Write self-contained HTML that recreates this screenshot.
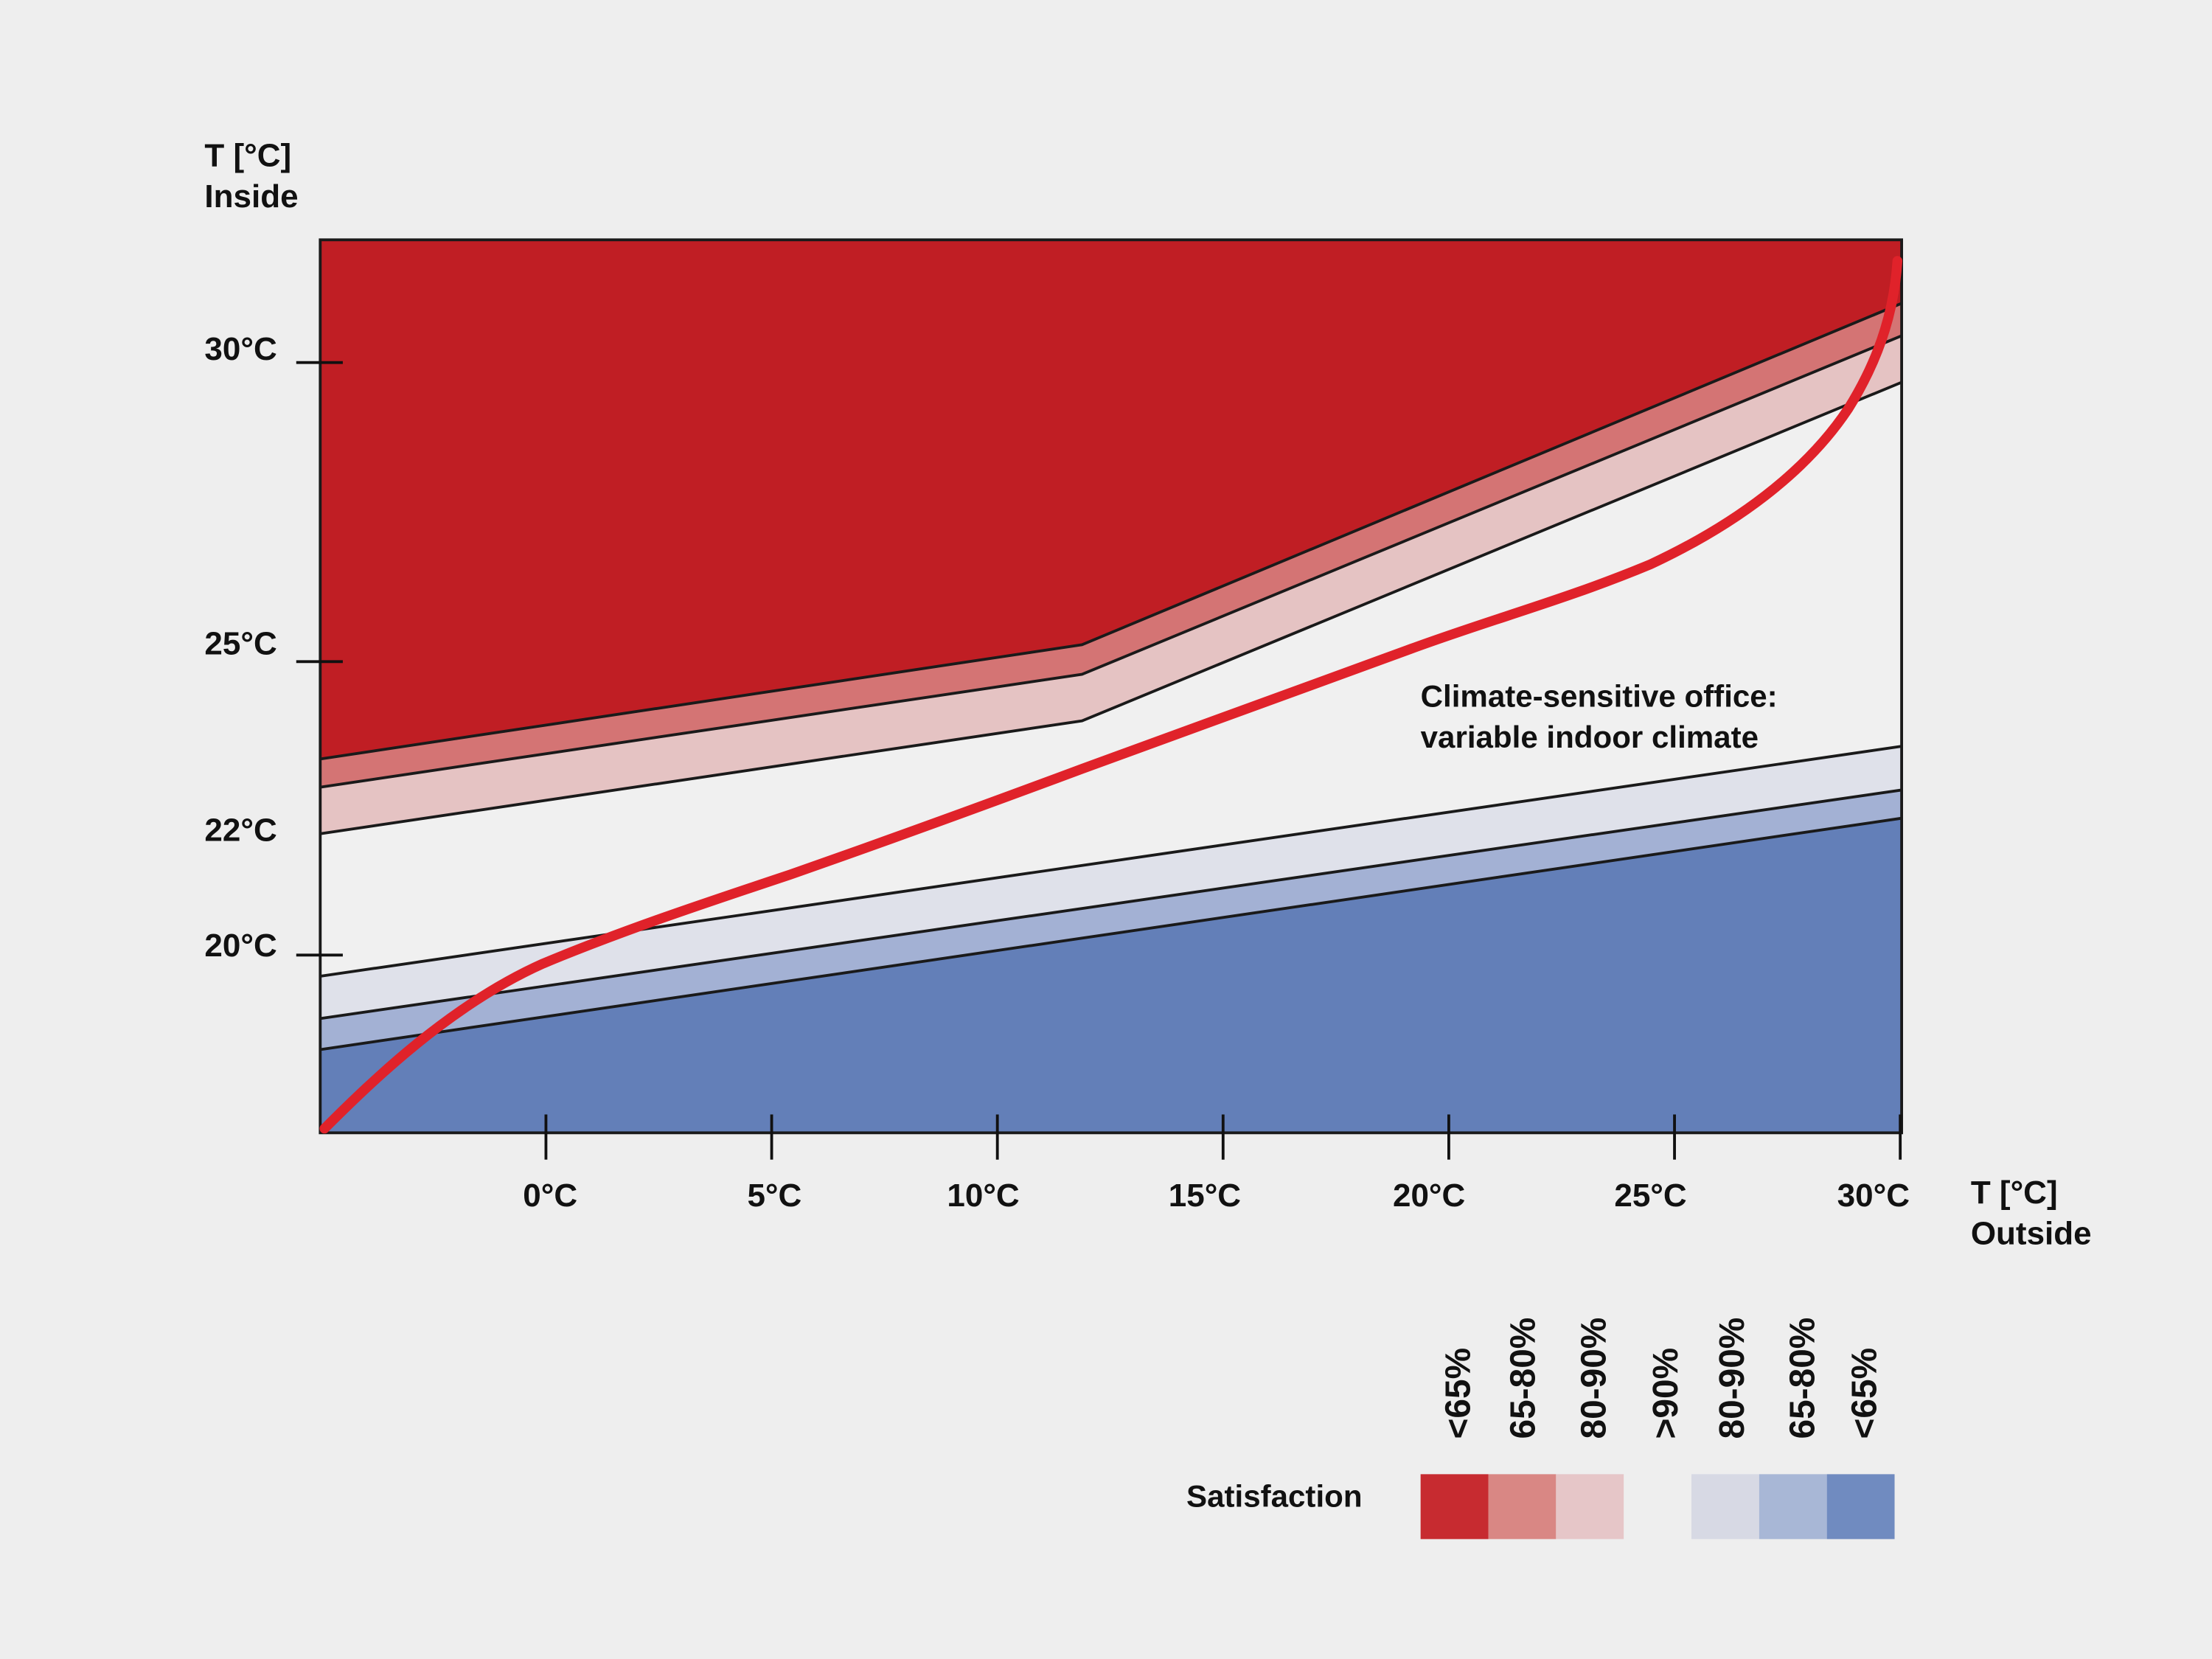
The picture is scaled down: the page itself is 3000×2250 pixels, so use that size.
<!DOCTYPE html>
<html><head><meta charset="utf-8">
<style>
html,body{margin:0;padding:0;background:#eeeeee;}
svg{display:block;}
text{font-family:"Liberation Sans",Arial,sans-serif;font-weight:bold;fill:#111;}
</style></head>
<body>
<svg width="3000" height="2250" viewBox="0 0 1568 1176" preserveAspectRatio="none" xmlns="http://www.w3.org/2000/svg">
<rect width="1568" height="1176" fill="#eeeeee"/>
<rect x="227" y="170" width="1121" height="633" fill="#f0f0f0"/>
<polygon points="227,170 1348,170 1348,271 767,511 227,591" fill="#e5c3c3"/>
<polygon points="227,170 1348,170 1348,238 767,478 227,558" fill="#d47474"/>
<polygon points="227,170 1348,170 1348,215 767,457 227,538" fill="#c01e24"/>
<polygon points="227,692 1348,529 1348,803 227,803" fill="#dfe1ea"/>
<polygon points="227,722 1348,560 1348,803 227,803" fill="#a3b1d4"/>
<polygon points="227,744 1348,580 1348,803 227,803" fill="#637fb8"/>
<g stroke="#1a1a1a" stroke-width="2" fill="none">
<polyline points="227,538 767,457 1348,215"/>
<polyline points="227,558 767,478 1348,238"/>
<polyline points="227,591 767,511 1348,271"/>
<line x1="227" y1="692" x2="1348" y2="529"/>
<line x1="227" y1="722" x2="1348" y2="560"/>
<line x1="227" y1="744" x2="1348" y2="580"/>
<rect x="227" y="170" width="1121" height="633"/>
</g>
<g stroke="#111" stroke-width="2">
<line x1="210" y1="257" x2="243" y2="257"/>
<line x1="210" y1="469" x2="243" y2="469"/>
<line x1="210" y1="677" x2="243" y2="677"/>
<line x1="387" y1="790" x2="387" y2="822"/>
<line x1="547" y1="790" x2="547" y2="822"/>
<line x1="707" y1="790" x2="707" y2="822"/>
<line x1="867" y1="790" x2="867" y2="822"/>
<line x1="1027" y1="790" x2="1027" y2="822"/>
<line x1="1187" y1="790" x2="1187" y2="822"/>
<line x1="1347" y1="790" x2="1347" y2="822"/>
</g>
<path d="M230,800 C265,765 320,712 385,683 C440,660 500,640 560,620 C640,592 700,570 767,545 C850,515 930,485 1000,460 C1060,438 1110,425 1170,400 C1230,372 1280,335 1310,290 C1335,250 1343,215 1345,185" fill="none" stroke="#e0222a" stroke-width="7" stroke-linecap="round"/>
<text x="145" y="118" font-size="23">T [°C]</text>
<text x="145" y="147" font-size="23">Inside</text>
<text x="145" y="255" font-size="23">30°C</text>
<text x="145" y="464" font-size="23">25°C</text>
<text x="145" y="596" font-size="23">22°C</text>
<text x="145" y="678" font-size="23">20°C</text>
<g font-size="23" text-anchor="middle">
<text x="390" y="855">0°C</text>
<text x="549" y="855">5°C</text>
<text x="697" y="855">10°C</text>
<text x="854" y="855">15°C</text>
<text x="1013" y="855">20°C</text>
<text x="1170" y="855">25°C</text>
<text x="1328" y="855">30°C</text>
</g>
<text x="1397" y="853" font-size="23">T [°C]</text>
<text x="1397" y="882" font-size="23">Outside</text>
<text x="1007" y="501" font-size="22">Climate-sensitive office:</text>
<text x="1007" y="530" font-size="22">variable indoor climate</text>
<text x="841" y="1068" font-size="22">Satisfaction</text>
<rect x="1007" y="1045" width="48" height="46" fill="#c72b30"/>
<rect x="1055" y="1045" width="48" height="46" fill="#d98784"/>
<rect x="1103" y="1045" width="48" height="46" fill="#e6c6c8"/>
<rect x="1199" y="1045" width="48" height="46" fill="#d7d9e4"/>
<rect x="1247" y="1045" width="48" height="46" fill="#a8b7d6"/>
<rect x="1295" y="1045" width="48" height="46" fill="#708bc0"/>
<g font-size="25">
<text transform="translate(1042,1020) rotate(-90)">&lt;65%</text>
<text transform="translate(1088,1020) rotate(-90)">65-80%</text>
<text transform="translate(1138,1020) rotate(-90)">80-90%</text>
<text transform="translate(1189,1020) rotate(-90)">&gt;90%</text>
<text transform="translate(1236,1020) rotate(-90)">80-90%</text>
<text transform="translate(1286,1020) rotate(-90)">65-80%</text>
<text transform="translate(1330,1020) rotate(-90)">&lt;65%</text>
</g>
</svg>
</body></html>
